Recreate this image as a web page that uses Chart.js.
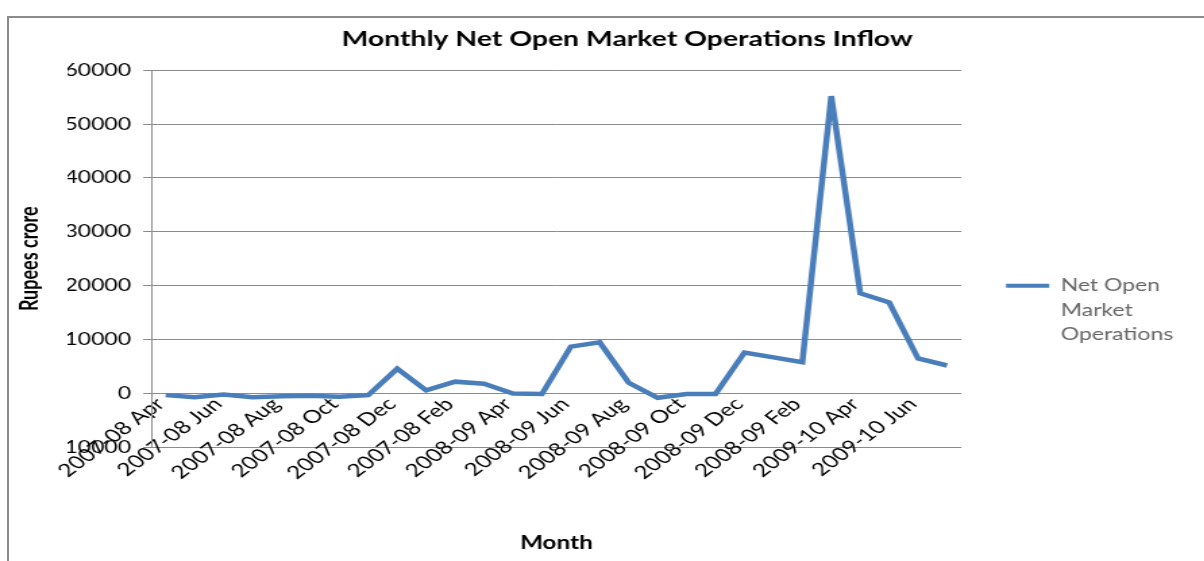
<html lang="en">
<head>
  <meta charset="UTF-8">
  <title>Monthly Net Open Market Operations Inflow</title>
  <script src="https://cdn.jsdelivr.net/npm/chart.js"></script>
  <style>
    body { margin: 0; background: #fff; overflow: hidden; }
    #frame {
      position: absolute; left: 7px; top: 16px; width: 1210px; height: 560px;
      border-top: 2px solid #8a8a8a; border-left: 2px solid #8a8a8a;
    }
    /* the reference picture is stretched sideways, so the canvas is too */
    #viz { position: absolute; left: 0; top: 0; transform: scaleX(1.35); transform-origin: 0 0; }
  </style>
</head>
<body>
  <div id="frame"></div>
  <canvas id="viz" width="892" height="561"></canvas>

  <script>
    const months = [
      '2007-08 Apr', '2007-08 May', '2007-08 Jun', '2007-08 Jul', '2007-08 Aug', '2007-08 Sep',
      '2007-08 Oct', '2007-08 Nov', '2007-08 Dec', '2007-08 Jan', '2007-08 Feb', '2007-08 Mar',
      '2008-09 Apr', '2008-09 May', '2008-09 Jun', '2008-09 Jul', '2008-09 Aug', '2008-09 Sep',
      '2008-09 Oct', '2008-09 Nov', '2008-09 Dec', '2008-09 Jan', '2008-09 Feb', '2008-09 Mar',
      '2009-10 Apr', '2009-10 May', '2009-10 Jun', '2009-10 Jul'
    ]
    const netOmo = [
      -300, -700, -200, -700, -500, -400, -600, -300, 4600, 600, 2200, 1800,
      0, -100, 8700, 9500, 2000, -800, -100, -100, 7600, 6700, 5800, 55200,
      18600, 16900, 6500, 5200
    ]
    const yTicks = [-10000, 0, 10000, 20000, 30000, 40000, 50000, 60000]
    const seriesName = ['Net Open', 'Market', 'Operations']

    const font = 'Lato'
    const gridColor = '#8c8c8c'
    const lineColor = '#4a7ebb'

    const chart = new Chart(document.getElementById('viz'), {
      type: 'line',
      data: {
        labels: months,
        datasets: [{
          label: seriesName.join(' '),
          data: netOmo,
          borderColor: lineColor,
          backgroundColor: lineColor,
          borderWidth: 4.5,
          pointRadius: 0,
          tension: 0,
          fill: false,
          xAxisID: 'x',
          yAxisID: 'y'
        }]
      },
      options: {
        responsive: false,
        animation: false,
        layout: { padding: { left: 50, right: 13, top: 0, bottom: 0 } },
        plugins: {
          title: {
            display: true,
            text: 'Monthly Net Open Market Operations Inflow',
            color: '#000',
            font: { family: font, size: 21, weight: 'bold', lineHeight: 1.2 },
            padding: { top: 27, bottom: 18 }
          },
          legend: {
            position: 'right',
            align: 'center',
            title: { display: true, text: ' ', font: { size: 10, lineHeight: 1.2 }, padding: { top: 0, bottom: 55 } },
            labels: {
              color: '#000',
              font: { family: font, size: 17, lineHeight: 1.44 },
              boxWidth: 32,
              boxHeight: 4,
              padding: 33,
              generateLabels: () => [{
                text: seriesName,
                fillStyle: lineColor,
                strokeStyle: lineColor,
                lineWidth: 0,
                datasetIndex: 0
              }]
            }
          },
          tooltip: { enabled: false }
        },
        scales: {
          x: {
            type: 'category',
            position: { y: 0 },
            offset: true,
            grid: { display: false },
            border: { display: false },
            ticks: {
              autoSkip: false,
              minRotation: 45,
              maxRotation: 45,
              padding: -8,
              labelOffset: -4,
              color: '#000',
              font: { family: font, size: 18 },
              callback: (v, i) => i % 2 === 0 ? months[i] : ''
            }
          },
          x2: {
            type: 'category',
            position: 'bottom',
            grid: { display: false },
            border: { display: false },
            ticks: { display: false },
            title: {
              display: true,
              text: 'Month',
              color: '#000',
              font: { family: font, size: 18, weight: 'bold', lineHeight: 1.2 },
              padding: { top: 77, bottom: 7 }
            }
          },
          y: {
            min: -10000,
            max: 60000,
            afterBuildTicks: (scale) => { scale.ticks = yTicks.map(v => ({ value: v })) },
            afterFit: (scale) => { scale.width = 62 },
            grid: { color: gridColor, lineWidth: 1, tickLength: 6, drawTicks: true },
            border: { color: gridColor, width: 1 },
            ticks: {
              padding: 9,
              color: '#000',
              font: { family: font, size: 17 },
              callback: (v) => String(v)
            },
            title: {
              display: true,
              text: 'Rupees crore',
              color: '#000',
              font: { family: font, size: 18, weight: 'bold', lineHeight: 1.2 },
              padding: { top: -39, bottom: 0 }
            }
          }
        }
      }
    })
  </script>
</body>
</html>
